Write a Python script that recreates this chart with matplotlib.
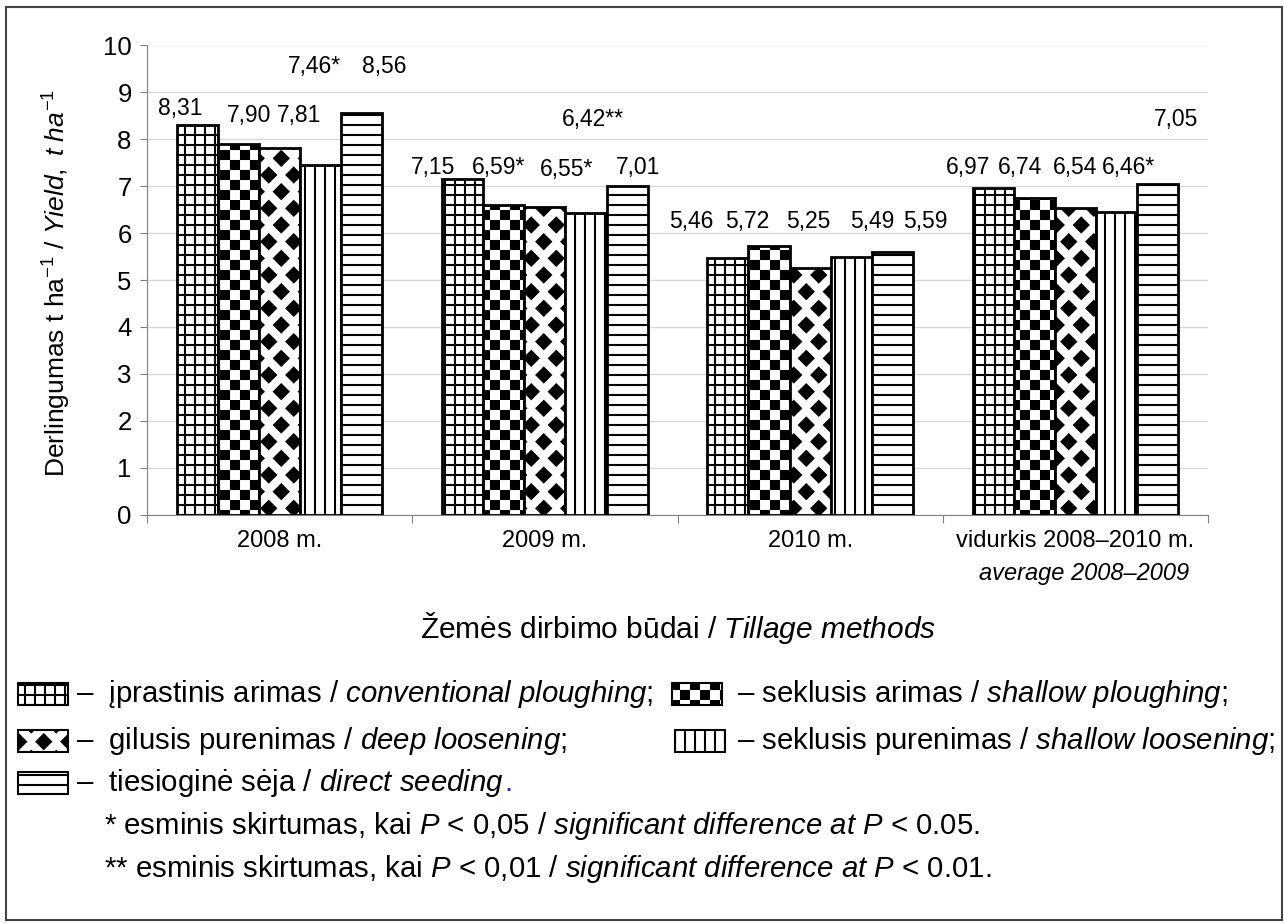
import warnings
import numpy as np
import matplotlib
matplotlib.use('Agg')
import matplotlib.pyplot as plt
import matplotlib.hatch as mhatch
from matplotlib.path import Path
from matplotlib.patches import Rectangle

# custom hatch letters are not in matplotlib's list, it only warns about them
warnings.filterwarnings('ignore', message='hatch must consist')

# yields, t ha-1, one list per tillage method
categories = ['2008 m.', '2009 m.', '2010 m.', 'vidurkis 2008–2010 m.']
conventional = [8.31, 7.15, 5.46, 6.97]
shallow_ploughing = [7.90, 6.59, 5.72, 6.74]
deep_loosening = [7.81, 6.55, 5.25, 6.54]
shallow_loosening = [7.46, 6.42, 5.49, 6.46]
direct_seeding = [8.56, 7.01, 5.59, 7.05]
signif = [['', '', '', ''],
          ['', '*', '', ''],
          ['', '*', '', ''],
          ['*', '**', '', '*'],
          ['', '', '', '']]

series = [conventional, shallow_ploughing, deep_loosening, shallow_loosening, direct_seeding]
hatches = ['g', 'c', 'd', 'v', 'h']

# where the value labels sit (x shift from bar centre, baseline height)
label_dx = [[-0.063, -0.112, -0.137, -0.094],
            [0.040, -0.019, -0.083, -0.053],
            [0.074, 0.083, -0.006, 0.000],
            [-0.023, 0.026, 0.079, 0.045],
            [0.083, 0.041, 0.124, 0.068]]
label_y = [[8.52, 7.26, 6.10, 7.26],
           [8.37, 7.26, 6.10, 7.26],
           [8.37, 7.21, 6.10, 7.26],
           [9.41, 8.28, 6.10, 7.26],
           [9.41, 7.26, 6.10, 8.28]]

legend_labels = [
    r'–  įprastinis arimas / $\mathit{conventional\ ploughing}$;',
    r'– seklusis arimas / $\mathit{shallow\ ploughing}$;',
    r'–  gilusis purenimas / $\mathit{deep\ loosening}$;',
    r'– seklusis purenimas / $\mathit{shallow\ loosening}$;',
    r'–  tiesioginė sėja / $\mathit{direct\ seeding}$',
]
footnotes = [
    r'* esminis skirtumas, kai $\mathit{P}$ < 0,05 / $\mathit{significant\ difference\ at\ P}$ < $\mathit{0.05}$.',
    r'** esminis skirtumas, kai $\mathit{P}$ < 0,01 / $\mathit{significant\ difference\ at\ P}$ < $\mathit{0.01}$.',
]

CLOSED = [Path.MOVETO, Path.LINETO, Path.LINETO, Path.LINETO, Path.CLOSEPOLY]


# ---- hatch patterns (tile = 1 inch = 100 px) ----
class LinesHatch(mhatch.HatchPatternBase):
    char, horizontal, vertical, per_tile = 'g', True, True, 10

    def __init__(self, hatch, density):
        self.n = hatch.count(self.char) * self.per_tile
        self.num_vertices = self.n * 2 * (int(self.horizontal) + int(self.vertical))

    def set_vertices_and_codes(self, vertices, codes):
        steps = (np.arange(self.n) + 0.5) / self.n
        segs = []
        if self.horizontal:
            for s in steps:
                segs += [(0, s), (1, s)]
        if self.vertical:
            for s in steps:
                segs += [(s, 0), (s, 1)]
        vertices[:] = segs
        codes[0::2] = Path.MOVETO
        codes[1::2] = Path.LINETO


class HLines(LinesHatch):
    char, horizontal, vertical = 'h', True, False


class VLines(LinesHatch):
    char, horizontal, vertical = 'v', False, True


class Checker(mhatch.HatchPatternBase):
    def __init__(self, hatch, density):
        self.k = hatch.count('c') * 5
        self.num_vertices = 2 * self.k ** 2 * 5

    def set_vertices_and_codes(self, vertices, codes):
        s = 0.5 / self.k
        m = 0.01
        sq = np.array([[m, m], [s - m, m], [s - m, s - m], [m, s - m], [m, m]])
        parts = []
        for i in range(self.k):
            for j in range(self.k):
                parts.append(sq + [2 * i * s, 2 * j * s])
                parts.append(sq + [(2 * i + 1) * s, (2 * j + 1) * s])
        vertices[:] = np.concatenate(parts)
        codes[:] = np.tile(CLOSED, 2 * self.k ** 2)


class Diamonds(mhatch.HatchPatternBase):
    # staggered rows of black diamonds, 4 per row, 6 rows per tile,
    # repeated one tile around so the ones on the edge wrap
    def __init__(self, hatch, density):
        self.cols = hatch.count('d') * 4
        self.rows = hatch.count('d') * 6
        self.num_vertices = self.cols * self.rows * 9 * 5

    def set_vertices_and_codes(self, vertices, codes):
        r = 0.072
        dia = np.array([[r, 0], [0, r], [-r, 0], [0, -r], [r, 0]])
        parts = []
        for ox in (-1, 0, 1):
            for oy in (-1, 0, 1):
                for j in range(self.rows):
                    shift = 0.25 + 0.5 * (j % 2)
                    for i in range(self.cols):
                        parts.append(dia + [(i + shift) / self.cols + ox,
                                            (j + 0.5) / self.rows + oy])
        vertices[:] = np.concatenate(parts)
        codes[:] = np.tile(CLOSED, self.cols * self.rows * 9)


mhatch._hatch_types += [LinesHatch, HLines, VLines, Checker, Diamonds]

plt.rcParams['font.family'] = ['Liberation Sans', 'DejaVu Sans']
plt.rcParams['mathtext.fontset'] = 'custom'
plt.rcParams['mathtext.rm'] = 'Liberation Sans'
plt.rcParams['mathtext.it'] = 'Liberation Sans:italic'
plt.rcParams['hatch.linewidth'] = 1.5
plt.rcParams['hatch.color'] = 'black'

W, H = 1284, 923
fig = plt.figure(figsize=(W / 100, H / 100), dpi=100)
ax = fig.add_axes([147 / W, 1 - 514.5 / H, 1061 / W, 469 / H])

x = np.arange(len(categories))
width = 0.155
for i, vals in enumerate(series):
    pos = x + (i - 2) * width
    ax.bar(pos, vals, width, facecolor='white', edgecolor='black', linewidth=2,
           hatch=hatches[i], zorder=3)
    for j, v in enumerate(vals):
        txt = f'{v:.2f}'.replace('.', ',') + signif[i][j]
        ax.text(pos[j] + label_dx[i][j], label_y[i][j], txt, ha='center', va='baseline',
                fontsize=16.5)

ax.set_xlim(-0.5, 3.5)
ax.set_ylim(0, 10)
ax.set_yticks(range(0, 11))
ax.grid(axis='y', color='#d9d9d9', linewidth=1)
ax.set_axisbelow(True)
ax.tick_params(axis='y', labelsize=18.5, length=5, color='#808080', pad=6)

ax.set_xticks(np.arange(-0.5, 4, 1))
ax.set_xticklabels([])
ax.set_xticks(x, categories, minor=True)
ax.tick_params(axis='x', which='major', length=6, color='#808080')
ax.tick_params(axis='x', which='minor', length=0, labelsize=17, pad=11.5)

for side in ['top', 'right']:
    ax.spines[side].set_visible(False)
for side in ['left', 'bottom']:
    ax.spines[side].set_color('#808080')

# second line of the last category label
ax.annotate('average 2008–2009', xy=(3.43, H - 580), xycoords=('data', 'figure pixels'),
            ha='right', va='baseline', fontsize=17, style='italic')

fig.text(57 / W, 1 - 283 / H,
         r'Derlingumas t ha$^{-1}$ / $\mathit{Yield,\ t\ ha}^{-1}$',
         rotation=90, ha='center', va='center', fontsize=19)
fig.text(420 / W, 1 - 638 / H, r'Žemės dirbimo būdai / $\mathit{Tillage\ methods}$',
         ha='left', va='baseline', fontsize=21.5)

# legend drawn by hand, swatch + text per entry
swatch_xy = [(18, 694), (672, 694), (18, 741), (675, 741), (18, 783)]
text_x = [76, 737, 76, 737, 76]
for i, lab in enumerate(legend_labels):
    sx, sy = swatch_xy[i]
    fig.add_artist(Rectangle((sx / W, 1 - (sy + 11) / H), 50 / W, 22 / H,
                             transform=fig.transFigure, facecolor='white',
                             edgecolor='black', linewidth=1.5, hatch=hatches[i]))
    t = fig.text(text_x[i] / W, 1 - sy / H, lab, ha='left', va='center', fontsize=21.2)

# the closing full stop of the last entry is blue in the source
fig.canvas.draw()
bb = t.get_window_extent()
fig.text(bb.x1 / W, 1 - 783 / H, '.', color='#1f1fd0', ha='left', va='center',
         fontsize=21.2)

for k, note in enumerate(footnotes):
    fig.text(104 / W, 1 - (826 + 43 * k) / H, note, ha='left', va='center', fontsize=21.2)

# frame round the whole picture
fig.add_artist(Rectangle((6 / W, 1 - 920 / H), 1276 / W, 913 / H, transform=fig.transFigure,
                         fill=False, edgecolor='#444444', linewidth=1.5))

fig.savefig('out.png', dpi=100)
